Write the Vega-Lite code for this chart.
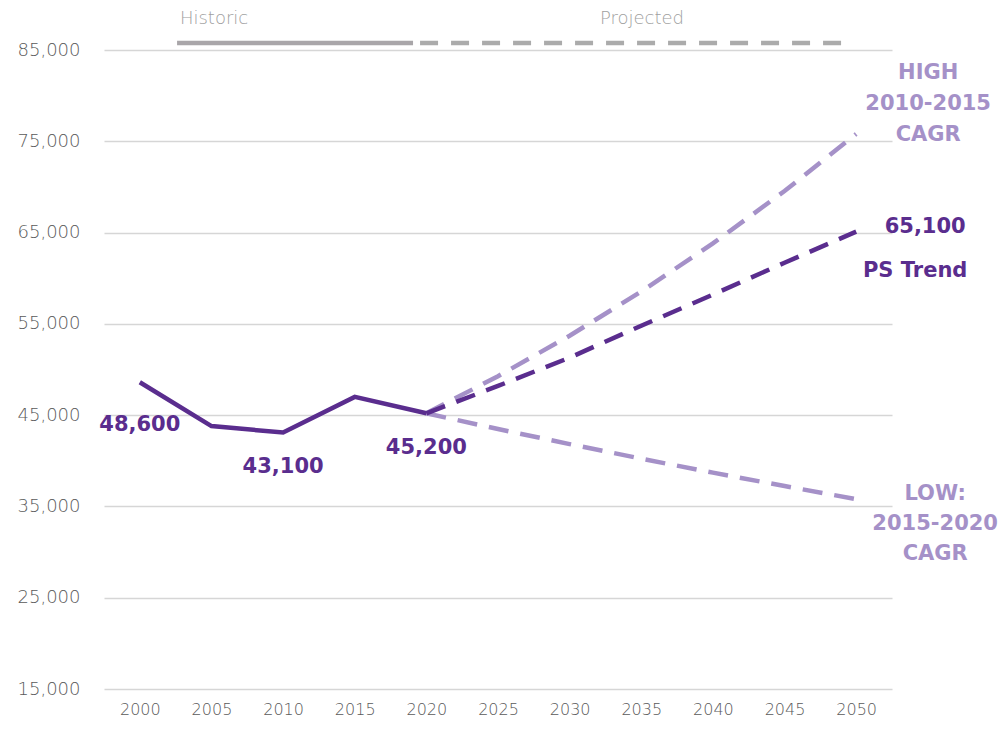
{
  "$schema": "https://vega.github.io/schema/vega-lite/v6.json",
  "width": 788,
  "height": 639,
  "autosize": {"type": "none"},
  "padding": {"left": 104, "top": 50, "right": 106, "bottom": 41},
  "background": "white",
  "config": {"view": {"stroke": null}, "font": "DejaVu Sans"},
  "datasets": {
    "series": [
      {"year": 2000, "value": 48600, "series": "Historic"},
      {"year": 2005, "value": 43800, "series": "Historic"},
      {"year": 2010, "value": 43100, "series": "Historic"},
      {"year": 2015, "value": 47000, "series": "Historic"},
      {"year": 2020, "value": 45200, "series": "Historic"},
      {"year": 2020, "value": 45200, "series": "PS Trend"},
      {"year": 2025, "value": 48200, "series": "PS Trend"},
      {"year": 2030, "value": 51300, "series": "PS Trend"},
      {"year": 2035, "value": 54800, "series": "PS Trend"},
      {"year": 2040, "value": 58200, "series": "PS Trend"},
      {"year": 2045, "value": 61700, "series": "PS Trend"},
      {"year": 2050, "value": 65100, "series": "PS Trend"},
      {"year": 2020, "value": 45200, "series": "High"},
      {"year": 2025, "value": 49270, "series": "High"},
      {"year": 2030, "value": 53700, "series": "High"},
      {"year": 2035, "value": 58540, "series": "High"},
      {"year": 2040, "value": 63810, "series": "High"},
      {"year": 2045, "value": 69550, "series": "High"},
      {"year": 2050, "value": 75800, "series": "High"},
      {"year": 2020, "value": 45200, "series": "Low"},
      {"year": 2025, "value": 43480, "series": "Low"},
      {"year": 2030, "value": 41830, "series": "Low"},
      {"year": 2035, "value": 40230, "series": "Low"},
      {"year": 2040, "value": 38700, "series": "Low"},
      {"year": 2045, "value": 37230, "series": "Low"},
      {"year": 2050, "value": 35800, "series": "Low"}
    ],
    "key": [
      {"year": 2002.6, "value": 85770, "seg": "Historic"},
      {"year": 2019.07, "value": 85770, "seg": "Historic"},
      {"year": 2019.56, "value": 85770, "seg": "Projected"},
      {"year": 2049.36, "value": 85770, "seg": "Projected"}
    ],
    "keylabels": [
      {"year": 2002.8, "value": 88400, "label": "Historic", "align": "left"},
      {"year": 2035.05, "value": 88400, "label": "Projected", "align": "center"}
    ]
  },
  "layer": [
    {
      "data": {"name": "series"},
      "transform": [{"filter": "datum.series === 'High' || datum.series === 'Low'"}],
      "mark": {"type": "line", "color": "#a591c8", "strokeWidth": 4.5, "strokeDash": [20, 12]},
      "encoding": {
        "x": {
          "field": "year", "type": "quantitative",
          "scale": {"domain": [1997.5, 2052.5], "nice": false, "zero": false},
          "axis": {
            "values": [2000, 2005, 2010, 2015, 2020, 2025, 2030, 2035, 2040, 2045, 2050],
            "format": "d", "grid": false, "domain": false, "ticks": false,
            "labelFontSize": 16, "labelColor": "#5a5a5a", "labelPadding": 12,
            "labelFont": "DejaVu Sans", "labelFontWeight": 300, "title": null
          }
        },
        "y": {
          "field": "value", "type": "quantitative",
          "scale": {"domain": [15000, 85000], "nice": false, "zero": false},
          "axis": {
            "values": [15000, 25000, 35000, 45000, 55000, 65000, 75000, 85000],
            "format": ",.0f", "grid": true, "gridColor": "#d6d6d6", "gridWidth": 1.5,
            "domain": false, "ticks": false, "labelPadding": 24,
            "labelFontSize": 18, "labelColor": "#5a5a5a", "labelFontWeight": 300, "title": null
          }
        },
        "detail": {"field": "series"}
      }
    },
    {
      "data": {"name": "series"},
      "transform": [{"filter": "datum.series === 'PS Trend'"}],
      "mark": {"type": "line", "color": "#5a2d8e", "strokeWidth": 4.5, "strokeDash": [20, 12]},
      "encoding": {
        "x": {"field": "year", "type": "quantitative"},
        "y": {"field": "value", "type": "quantitative"}
      }
    },
    {
      "data": {"name": "series"},
      "transform": [{"filter": "datum.series === 'Historic'"}],
      "mark": {"type": "line", "color": "#5a2d8e", "strokeWidth": 4.5},
      "encoding": {
        "x": {"field": "year", "type": "quantitative"},
        "y": {"field": "value", "type": "quantitative"}
      }
    },
    {
      "data": {"name": "key"},
      "transform": [{"filter": "datum.seg === 'Historic'"}],
      "mark": {"type": "line", "color": "#a9a6a9", "strokeWidth": 4.5},
      "encoding": {
        "x": {"field": "year", "type": "quantitative"},
        "y": {"field": "value", "type": "quantitative"}
      }
    },
    {
      "data": {"name": "key"},
      "transform": [{"filter": "datum.seg === 'Projected'"}],
      "mark": {"type": "line", "color": "#ababab", "strokeWidth": 4.5, "strokeDash": [18, 13]},
      "encoding": {
        "x": {"field": "year", "type": "quantitative"},
        "y": {"field": "value", "type": "quantitative"}
      }
    },
    {
      "data": {"name": "keylabels"},
      "transform": [{"filter": "datum.align === 'left'"}],
      "mark": {"type": "text", "align": "left", "baseline": "middle", "fontSize": 18, "color": "#a0a0a0", "fontWeight": 300},
      "encoding": {
        "x": {"field": "year", "type": "quantitative"},
        "y": {"field": "value", "type": "quantitative"},
        "text": {"field": "label"}
      }
    },
    {
      "data": {"name": "keylabels"},
      "transform": [{"filter": "datum.align === 'center'"}],
      "mark": {"type": "text", "align": "center", "baseline": "middle", "fontSize": 18, "color": "#a0a0a0", "fontWeight": 300},
      "encoding": {
        "x": {"field": "year", "type": "quantitative"},
        "y": {"field": "value", "type": "quantitative"},
        "text": {"field": "label"}
      }
    },
    {
      "data": {"name": "series"},
      "transform": [{"filter": "datum.series === 'Historic' && datum.year === 2000"}],
      "mark": {"type": "text", "align": "center", "baseline": "middle", "dy": 43, "fontSize": 21, "fontWeight": "bold", "color": "#5a2d8e"},
      "encoding": {
        "x": {"field": "year", "type": "quantitative"},
        "y": {"field": "value", "type": "quantitative"},
        "text": {"field": "value", "type": "quantitative", "format": ","}
      }
    },
    {
      "data": {"name": "series"},
      "transform": [{"filter": "datum.series === 'Historic' && (datum.year === 2010 || datum.year === 2020)"}],
      "mark": {"type": "text", "align": "center", "baseline": "middle", "dy": 35, "fontSize": 21, "fontWeight": "bold", "color": "#5a2d8e"},
      "encoding": {
        "x": {"field": "year", "type": "quantitative"},
        "y": {"field": "value", "type": "quantitative"},
        "text": {"field": "value", "type": "quantitative", "format": ","}
      }
    },
    {
      "data": {"name": "series"},
      "transform": [{"filter": "datum.series === 'PS Trend' && datum.year === 2050"}],
      "mark": {"type": "text", "align": "center", "baseline": "middle", "dx": 69, "dy": -5, "fontSize": 21, "fontWeight": "bold", "color": "#5a2d8e"},
      "encoding": {
        "x": {"field": "year", "type": "quantitative"},
        "y": {"field": "value", "type": "quantitative"},
        "text": {"field": "value", "type": "quantitative", "format": ","}
      }
    },
    {
      "data": {"name": "series"},
      "transform": [{"filter": "datum.series === 'PS Trend' && datum.year === 2050"}],
      "mark": {"type": "text", "text": "PS Trend", "align": "center", "baseline": "middle", "dx": 59, "dy": 39, "fontSize": 21, "fontWeight": "bold", "color": "#5a2d8e"},
      "encoding": {
        "x": {"field": "year", "type": "quantitative"},
        "y": {"field": "value", "type": "quantitative"}
      }
    },
    {
      "data": {"name": "series"},
      "transform": [{"filter": "datum.series === 'High' && datum.year === 2050"}],
      "mark": {"type": "text", "text": ["HIGH", "2010-2015", "CAGR"], "lineHeight": 31, "align": "center", "baseline": "middle", "dx": 72, "dy": -61, "fontSize": 21, "fontWeight": "bold", "color": "#a591c8"},
      "encoding": {
        "x": {"field": "year", "type": "quantitative"},
        "y": {"field": "value", "type": "quantitative"}
      }
    },
    {
      "data": {"name": "series"},
      "transform": [{"filter": "datum.series === 'Low' && datum.year === 2050"}],
      "mark": {"type": "text", "text": ["LOW:", "2015-2020", "CAGR"], "lineHeight": 30, "align": "center", "baseline": "middle", "dx": 79, "dy": -5, "fontSize": 21, "fontWeight": "bold", "color": "#a591c8"},
      "encoding": {
        "x": {"field": "year", "type": "quantitative"},
        "y": {"field": "value", "type": "quantitative"}
      }
    }
  ]
}
